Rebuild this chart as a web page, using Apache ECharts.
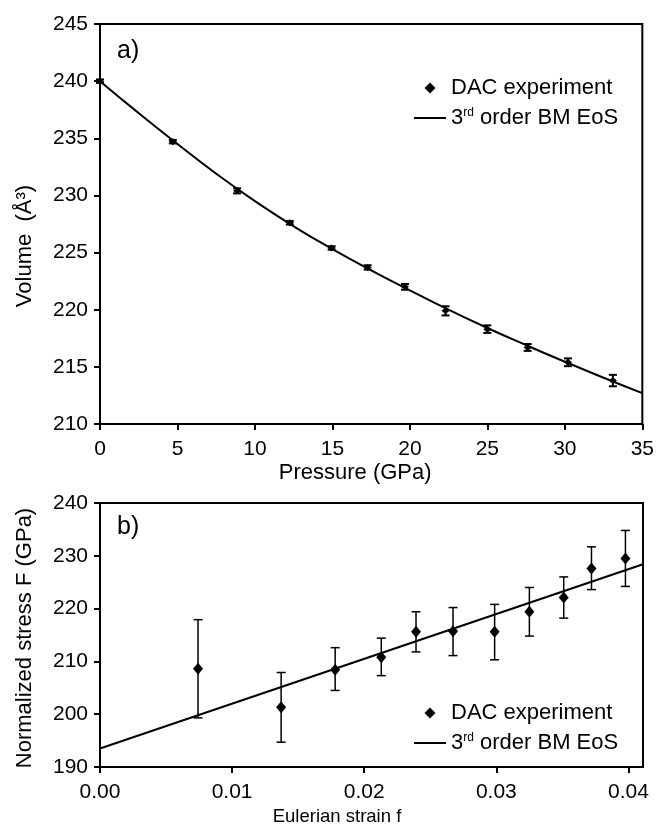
<!DOCTYPE html>
<html><head><meta charset="utf-8">
<script src="https://cdn.jsdelivr.net/npm/echarts@6/dist/echarts.min.js"></script>
<style>html,body{margin:0;padding:0;background:#fff}#c{width:657px;height:827px}</style>
</head><body><div id="c"></div>
<script>
// Panel a) data: pressure (GPa) vs volume (Å³)
const pressure  = [0, 4.7, 8.85, 12.25, 14.95, 17.27, 19.68, 22.3, 25.0, 27.6, 30.2, 33.1];
const volume    = [240.0, 234.7, 230.4, 227.6, 225.4, 223.7, 222.0, 219.9, 218.3, 216.7, 215.4, 213.8];
const volumeErr = [0.15, 0.15, 0.22, 0.15, 0.15, 0.19, 0.25, 0.4, 0.33, 0.3, 0.34, 0.5];
// 3rd order BM EoS curve
const fitPressure = [0, 2.5, 5, 7.5, 10, 12.5, 15, 17.5, 20, 22.5, 25, 27.5, 30, 32.5, 35];
const fitVolume   = [240.0, 237.2, 234.5, 231.9, 229.5, 227.3, 225.3, 223.45, 221.7, 220.0, 218.4, 216.9, 215.45, 214.05, 212.7];

// Panel b) data: Eulerian strain f vs normalized stress F (GPa)
const strain     = [0.00742, 0.01371, 0.0178, 0.02129, 0.02392, 0.02672, 0.02987, 0.0325, 0.0351, 0.0372, 0.03977];
const stress     = [208.6, 201.3, 208.4, 210.8, 215.6, 215.7, 215.6, 219.4, 222.1, 227.6, 229.5];
const stressHigh = [217.9, 207.9, 212.6, 214.4, 219.4, 220.2, 220.8, 224.0, 226.0, 231.7, 234.8];
const stressLow  = [199.3, 194.7, 204.5, 207.3, 211.8, 211.1, 210.3, 214.8, 218.2, 223.6, 224.2];
const fitStrain  = [0, 0.0411];
const fitStress  = [193.5, 228.4];

const xTicksA = [0, 35, 5];
const yTicksA = [210, 245, 5];
const xTicksB = [0, 0.0411, 0.01];
const yTicksB = [190, 240, 10];

const FONT = '"Liberation Sans", Arial, sans-serif';
const chart = echarts.init(document.getElementById('c'), null, {renderer: 'canvas'});

function errRender(cap, lw) {
  return function (params, api) {
    const x = api.value(0), lo = api.value(1), hi = api.value(2);
    const p1 = api.coord([x, hi]), p2 = api.coord([x, lo]);
    const st = {stroke: '#000', lineWidth: lw};
    return {type: 'group', children: [
      {type: 'line', shape: {x1: p1[0], y1: p1[1], x2: p2[0], y2: p2[1]}, style: st},
      {type: 'line', shape: {x1: p1[0] - cap, y1: p1[1], x2: p1[0] + cap, y2: p1[1]}, style: st},
      {type: 'line', shape: {x1: p2[0] - cap, y1: p2[1], x2: p2[0] + cap, y2: p2[1]}, style: st}
    ]};
  };
}

const axisCommon = {
  axisLine: {show: true, onZero: false, lineStyle: {color: '#000', width: 2}},
  axisTick: {show: true, length: 6, lineStyle: {color: '#000', width: 2}},
  splitLine: {show: false}
};
const labelStyle = {color: '#000', fontSize: 21, fontFamily: FONT};
const DIAMOND = 'path://M0,-1L1,0L0,1L-1,0Z';
const LINEICON = 'path://M0,0H32V2H0Z';
const legendCommon = {
  orient: 'vertical', itemWidth: 32, itemHeight: 11, itemGap: 8, padding: 0,
  selectedMode: false,
  itemStyle: {color: '#000', opacity: 1},
  textStyle: {color: '#000', fontSize: 22, fontFamily: FONT, lineHeight: 22,
    rich: {sup: {fontSize: 12, lineHeight: 12, verticalAlign: 'top', fontFamily: FONT, color: '#000'}}},
  formatter: n => n === '3rd order BM EoS' ? '3{sup|rd} order BM EoS' : n,
  data: [{name: 'DAC experiment', icon: DIAMOND}, {name: '3rd order BM EoS', icon: LINEICON}]
};

chart.setOption({
  animation: false,
  backgroundColor: '#fff',
  grid: [
    {left: 100, top: 24, width: 543, height: 400, show: true, borderColor: '#000', borderWidth: 2},
    {left: 100, top: 503, width: 543, height: 268, show: true, borderColor: '#000', borderWidth: 2}
  ],
  legend: [
    Object.assign({left: 414, top: 77}, legendCommon),
    Object.assign({left: 414, top: 702}, legendCommon)
  ],
  graphic: [
    {type: 'text', left: 117, top: 39, style: {text: 'a)', font: '25px ' + FONT, fill: '#000'}},
    {type: 'text', left: 117, top: 515, style: {text: 'b)', font: '25px ' + FONT, fill: '#000'}}
  ],
  xAxis: [
    Object.assign({}, axisCommon, {
      type: 'value', gridIndex: 0, min: xTicksA[0], max: xTicksA[1], interval: xTicksA[2],
      name: 'Pressure (GPa)', nameLocation: 'middle', nameGap: 38,
      nameTextStyle: {color: '#000', fontSize: 22, fontFamily: FONT, padding: [0, 32, 0, 0]},
      axisLabel: Object.assign({margin: 15}, labelStyle)
    }),
    Object.assign({}, axisCommon, {
      type: 'value', gridIndex: 1, min: xTicksB[0], max: xTicksB[1], interval: xTicksB[2],
      name: 'Eulerian strain f', nameLocation: 'middle', nameGap: 40,
      nameTextStyle: {color: '#000', fontSize: 18.5, fontFamily: FONT, padding: [0, 69, 0, 0]},
      axisLabel: Object.assign({margin: 15, showMaxLabel: false, formatter: v => v.toFixed(2)}, labelStyle)
    })
  ],
  yAxis: [
    Object.assign({}, axisCommon, {
      type: 'value', gridIndex: 0, min: yTicksA[0], max: yTicksA[1], interval: yTicksA[2],
      name: 'Volume  (Å³)', nameLocation: 'middle', nameGap: 64,
      nameTextStyle: {color: '#000', fontSize: 22, fontFamily: FONT, padding: [0, 44, 0, 0]},
      axisLabel: Object.assign({margin: 12}, labelStyle)
    }),
    Object.assign({}, axisCommon, {
      type: 'value', gridIndex: 1, min: yTicksB[0], max: yTicksB[1], interval: yTicksB[2],
      name: 'Normalized stress F (GPa)', nameLocation: 'middle', nameGap: 64,
      nameTextStyle: {color: '#000', fontSize: 22, fontFamily: FONT, padding: [0, 6, 0, 0]},
      axisLabel: Object.assign({margin: 12}, labelStyle)
    })
  ],
  series: [
    {type: 'line', name: '3rd order BM EoS', xAxisIndex: 0, yAxisIndex: 0, smooth: true, symbol: 'none',
      lineStyle: {color: '#000', width: 2}, itemStyle: {color: '#000'}, z: 2,
      data: fitPressure.map((p, i) => [p, fitVolume[i]])},
    {type: 'custom', name: 'errA', xAxisIndex: 0, yAxisIndex: 0, renderItem: errRender(4, 2), z: 3,
      encode: {x: 0, y: [1, 2]},
      data: pressure.map((p, i) => [p, volume[i] - volumeErr[i], volume[i] + volumeErr[i]])},
    {type: 'scatter', name: 'DAC experiment', xAxisIndex: 0, yAxisIndex: 0, symbol: 'diamond', symbolSize: [8, 7],
      itemStyle: {color: '#000', opacity: 1}, z: 4, data: pressure.map((p, i) => [p, volume[i]])},

    {type: 'line', name: '3rd order BM EoS', xAxisIndex: 1, yAxisIndex: 1, symbol: 'none',
      lineStyle: {color: '#000', width: 2}, itemStyle: {color: '#000'}, z: 2,
      data: fitStrain.map((f, i) => [f, fitStress[i]])},
    {type: 'custom', name: 'errB', xAxisIndex: 1, yAxisIndex: 1, renderItem: errRender(4.5, 1.5), z: 3,
      encode: {x: 0, y: [1, 2]},
      data: strain.map((f, i) => [f, stressLow[i], stressHigh[i]])},
    {type: 'scatter', name: 'DAC experiment', xAxisIndex: 1, yAxisIndex: 1, symbol: 'diamond', symbolSize: [10, 12],
      itemStyle: {color: '#000', opacity: 1}, z: 4, data: strain.map((f, i) => [f, stress[i]])}
  ]
});
</script>
</body></html>
